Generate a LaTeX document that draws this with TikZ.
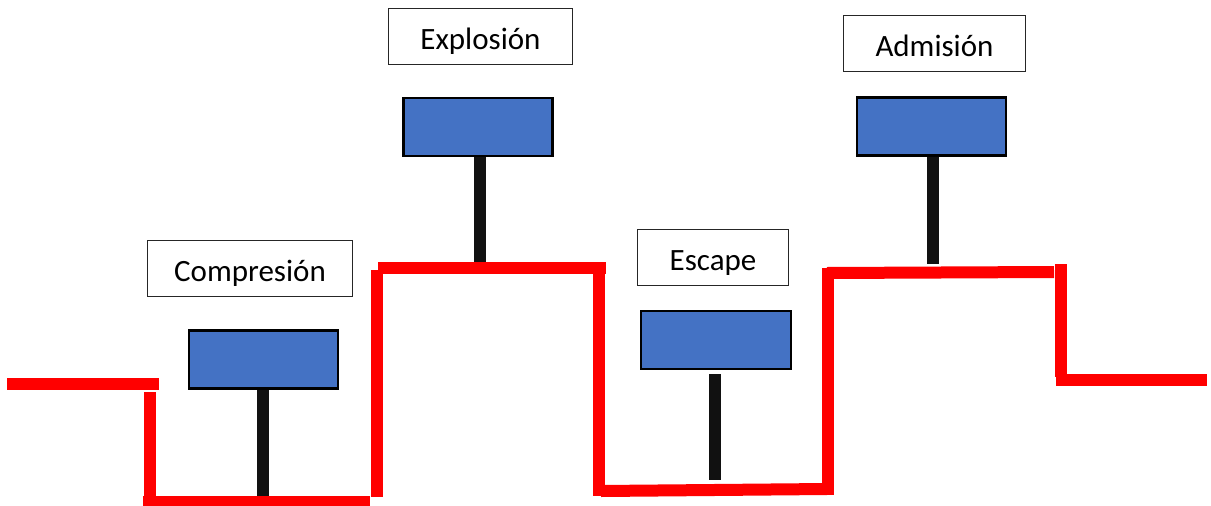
\documentclass[tikz,border=0pt]{standalone}
\usepackage{fontspec}
\setmainfont{Carlito}
\definecolor{pistonblue}{HTML}{4472C4}
\definecolor{rodblack}{HTML}{111111}
\definecolor{wallred}{HTML}{FF0000}
\begin{document}
\begin{tikzpicture}[x=1pt,y=-1pt,
  label/.style={draw=black!85, line width=1pt, fill=white, minimum height=56pt,
    text height=25pt, text depth=0pt, inner sep=0pt, font=\fontsize{31}{36}\selectfont},
  piston/.style={draw=black, line width=2.2pt, fill=pistonblue, minimum width=149pt,
    minimum height=58pt, inner sep=0pt},
  rod/.style={draw=rodblack, line width=12pt, line cap=butt},
  wall/.style={draw=wallred, line width=12pt, line cap=butt}]
\useasboundingbox (0,0) rectangle (1211,506);

% labels
\node[label, minimum width=205pt] (lC) at (250,268.5) {Compresión};
\node[label, minimum width=184pt] (lX) at (480.5,36.5) {Explosión};
\node[label, minimum width=151pt] (lE) at (713,257.5) {Escape};
\node[label, minimum width=182pt] (lA) at (934.5,43.5) {Admisión};

% pistons
\node[piston] (pC) at (263.5,359.5) {};
\node[piston] (pX) at (478,127) {};
\node[piston, minimum width=150pt] (pE) at (716,340) {};
\node[piston] (pA) at (931.5,126.5) {};

% rods
\coordinate (rC) at (263,496);
\coordinate (rX) at (480,262);
\coordinate (rE0) at (715,374);
\coordinate (rE) at (715,480);
\coordinate (rA) at (933,264);
\draw[rod] (rC |- pC.south) -- (rC);
\draw[rod] (rX |- pX.south) -- (rX);
\draw[rod] (rE0) -- (rE);
\draw[rod] (rA |- pA.south) -- (rA);

% red cylinder walls
\coordinate (w1a) at (7,384);    \coordinate (w1b) at (159,384);
\coordinate (w2a) at (150,392);  \coordinate (w2b) at (150,498);
\coordinate (w3a) at (143,501);  \coordinate (w3b) at (370,501);
\coordinate (w4a) at (377,270);  \coordinate (w4b) at (377,497);
\coordinate (w5a) at (378,268);  \coordinate (w5b) at (606,268);
\coordinate (w6a) at (599,262);  \coordinate (w6b) at (599,496);
\coordinate (w7a) at (601,491);  \coordinate (w7b) at (827,489);
\coordinate (w8a) at (828,268);  \coordinate (w8b) at (828,495);
\coordinate (w9a) at (827,273);  \coordinate (w9b) at (1054,272);
\coordinate (w10a) at (1061,264); \coordinate (w10b) at (1061,377);
\coordinate (w11a) at (1056,380); \coordinate (w11b) at (1207,380);
\draw[wall] (w1a) -- (w1b);
\draw[wall] (w2a) -- (w2b);
\draw[wall, line width=10pt] (w3a) -- (w3b);
\draw[wall] (w4a) -- (w4b);
\draw[wall] (w5a) -- (w5b);
\draw[wall] (w6a) -- (w6b);
\draw[wall] (w7a) -- (w7b);
\draw[wall] (w8a) -- (w8b);
\draw[wall] (w9a) -- (w9b);
\draw[wall] (w10a) -- (w10b);
\draw[wall] (w11a) -- (w11b);
\end{tikzpicture}
\end{document}
